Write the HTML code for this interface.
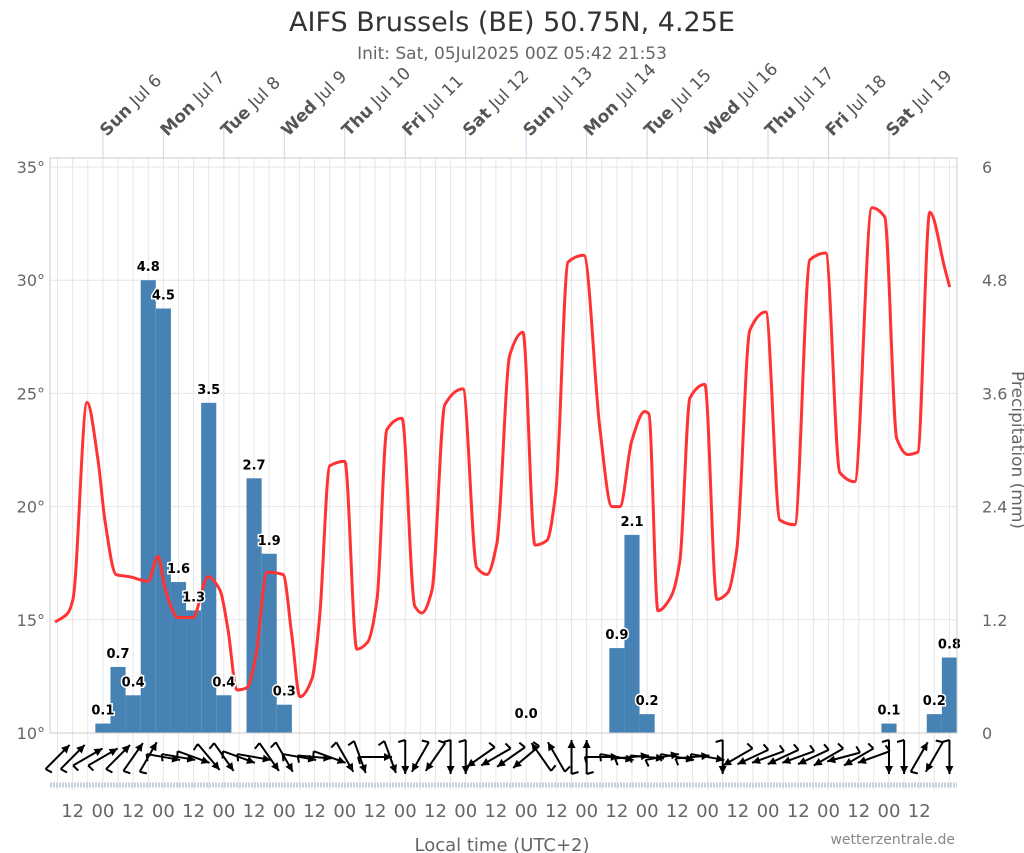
<!DOCTYPE html>
<html><head><meta charset="utf-8">
<style>
html,body{margin:0;padding:0;background:#fff;}
svg{display:block;font-family:"DejaVu Sans","Liberation Sans",sans-serif;}
</style></head>
<body>
<svg id="chart" width="1024" height="853" viewBox="0 0 1024 853" xmlns="http://www.w3.org/2000/svg">
<text x="512" y="31" text-anchor="middle" font-size="27" fill="#333">AIFS Brussels (BE) 50.75N, 4.25E</text>
<text x="512" y="59" text-anchor="middle" font-size="17" fill="#666">Init: Sat, 05Jul2025 00Z 05:42 21:53</text>
<g id="grid"></g>
<g id="bars"></g>
<g id="temp"></g>
<g id="barlabels"></g>
<g id="wind"></g>
<g id="axes"></g>
<text x="502" y="851" text-anchor="middle" font-size="18" fill="#666">Local time (UTC+2)</text>
<text x="955" y="844" text-anchor="end" font-size="14" fill="#888">wetterzentrale.de</text>
<text transform="translate(1012,450) rotate(90)" text-anchor="middle" font-size="17" fill="#666">Precipitation (mm)</text>
</svg>
<script>
const dayLabels=["Sun Jul 6","Mon Jul 7","Tue Jul 8","Wed Jul 9","Thu Jul 10","Fri Jul 11","Sat Jul 12","Sun Jul 13","Mon Jul 14","Tue Jul 15","Wed Jul 16","Thu Jul 17","Fri Jul 18","Sat Jul 19"];
const tempTicks=[10,15,20,25,30,35];
const precipTicks=[0,1.2,2.4,3.6,4.8,6];
const precipIndex=[3,4,5,6,7,8,9,10,11,13,14,15,37,38,39,55,58,59];
const precipValues=[0.1,0.7,0.4,4.8,4.5,1.6,1.3,3.5,0.4,2.7,1.9,0.3,0.9,2.1,0.2,0.1,0.2,0.8];
const zeroLabelIndex=[31];
const tempHours=[2,7.1,9.1,14.7,19,21.8,26.2,31.7,38.9,42.9,45.6,50.8,56.7,62.7,67.5,70.6,74.2,78.2,81.7,86.1,92.5,96,99.2,104,107,111,117,121.8,126,129.8,133.7,139.7,144.8,147.6,151.6,156.7,163.9,169.4,173.4,177.4,182.5,187.7,192.5,197.2,200.8,205.6,211.9,218.3,223,226.2,230.9,236.1,237.7,241.3,246.4,250,254,259.9,264.7,269,272.6,277.8,284.1,289.7,295.6,301.6,307.9,313.5,319.4,326.2,331.3,336.1,340.5,344.4,349.2,355.2,357.1];
const tempValues=[14.9,15.3,15.9,24.6,22.1,19.4,17.0,16.9,16.7,17.8,16.4,15.1,15.1,16.9,16.3,14.6,11.9,12.0,13.4,17.1,17.0,14.3,11.6,12.4,15.1,21.8,22.0,13.7,14.0,15.9,23.4,23.9,15.6,15.3,16.3,24.5,25.2,17.3,17.0,18.4,26.7,27.7,18.3,18.5,20.7,30.8,31.1,23.4,20.0,20.0,22.9,24.2,24.1,15.4,16.0,17.6,24.8,25.4,15.9,16.2,18.1,27.8,28.6,19.4,19.2,30.9,31.2,21.5,21.1,33.2,32.8,23.0,22.3,22.4,33.0,30.5,29.7];
const windDir=[45,45,60,60,45,35,30,100,100,110,140,145,110,100,145,150,100,95,110,150,160,90,160,180,210,215,180,180,235,240,235,230,325,330,0,0,90,100,85,95,80,100,85,100,180,240,245,250,245,250,245,240,255,240,250,180,180,30,210,180];

const NS="http://www.w3.org/2000/svg";
const L=50,R=957,T=158,B=733,HPX=(R-L)/360;
const xH=h=>L+h*HPX;
const yT=t=>B-(t-10)*(B-167)/25;
const yP=p=>B-p*(B-167)/6;
function mk(tag,parent,attrs){const e=document.createElementNS(NS,tag);for(const k in attrs)e.setAttribute(k,attrs[k]);parent.appendChild(e);return e;}
const grid=document.getElementById('grid'),axes=document.getElementById('axes');
for(let k=0;k<60;k++){const x=xH(3+6*k);const g=mk('line',grid,{x1:x,x2:x,y1:T,y2:790,stroke:'#e6e6e6','stroke-width':1});

}
tempTicks.forEach((t,i)=>{const y=yT(t);
const g=mk('line',grid,{x1:L,x2:R,y1:y,y2:y,stroke:'#e6e6e6','stroke-width':1});


const lt=mk('text',axes,{x:45,y:y+6,'text-anchor':'end','font-size':16,fill:'#666'});lt.textContent=t+'°';


const rt=mk('text',axes,{x:982,y:yP(precipTicks[i])+6,'font-size':16,fill:'#666'});rt.textContent=precipTicks[i];

});
const fr=mk('rect',axes,{x:L,y:T,width:R-L,height:B-T,fill:'none',stroke:'#ccc','stroke-width':1});


const ts=mk('line',axes,{x1:L,x2:R,y1:785,y2:785,stroke:'#c9d1dd','stroke-width':5,'stroke-dasharray':'2,1'});


dayLabels.forEach((d,i)=>{const x=xH(21+24*i);
const ln=mk('line',axes,{x1:x,x2:x,y1:126,y2:T,stroke:'#c8d4ea','stroke-width':1});


const sp=d.indexOf(' ');
const tx=mk('text',axes,{transform:`translate(${x+4},${137}) rotate(-45)`,'font-size':17,fill:'#555'});


const b=mk('tspan',tx,{'font-weight':'bold'});b.textContent=d.slice(0,sp);
const r=mk('tspan',tx,{});r.textContent=d.slice(sp);});
for(let h=9;h<=345;h+=12){const hr=((h+3)%24===0)?'00':'12';
const t=mk('text',axes,{x:xH(h),y:817,'text-anchor':'middle','font-size':18,fill:'#666'});t.textContent=hr;

}
const bars=document.getElementById('bars'),bl=document.getElementById('barlabels');
precipIndex.forEach((idx,j)=>{const x0=xH(6*idx),x1=xH(6*idx+6),v=precipValues[j];
const r=mk('rect',bars,{x:x0,y:yP(v),width:x1-x0,height:B-yP(v),fill:'#4682b4'});


const t=mk('text',bl,{x:(x0+x1)/2,y:yP(v)-9,'text-anchor':'middle','font-size':13,'font-weight':'bold',fill:'#000',stroke:'#fff','stroke-width':3,'paint-order':'stroke'});t.textContent=v.toFixed(1);

});
zeroLabelIndex.forEach(idx=>{const t=mk('text',bl,{x:xH(6*idx+3),y:B-15,'text-anchor':'middle','font-size':13,'font-weight':'bold',fill:'#000',stroke:'#fff','stroke-width':3,'paint-order':'stroke'});t.textContent='0.0';

});
// temperature curve: monotone cubic (Fritsch-Carlson), no overshoot
const X=tempHours.map(xH),Y=tempValues.map(yT),n=X.length;
const dl=[],m=[];
for(let i=0;i<n-1;i++)dl.push((Y[i+1]-Y[i])/(X[i+1]-X[i]));
m[0]=dl[0];m[n-1]=dl[n-2];
for(let i=1;i<n-1;i++){m[i]=(dl[i-1]*dl[i]<=0)?0:3*(X[i+1]-X[i-1])/((2*X[i+1]-X[i]-X[i-1])/dl[i-1]+(X[i+1]+X[i]-2*X[i-1])/dl[i]);}
let d=`M${X[0]},${Y[0]}`;
for(let i=0;i<n-1;i++){const h=(X[i+1]-X[i])/3;
d+=` C${X[i]+h},${Y[i]+m[i]*h} ${X[i+1]-h},${Y[i+1]-m[i+1]*h} ${X[i+1]},${Y[i+1]}`;}
const tl=mk('path',document.getElementById('temp'),{d:d,fill:'none',stroke:'#ff3333','stroke-width':3,'stroke-linejoin':'round'});


const wind=document.getElementById('wind');
windDir.forEach((dir,i)=>{const cx=xH(3+6*i),cy=757,len=34,a=dir*Math.PI/180;
const dx=Math.sin(a)*len/2,dy=-Math.cos(a)*len/2;
const hx=cx+dx,hy=cy+dy,tx=cx-dx,ty=cy-dy;
const g=mk('g',wind,{});


mk('line',g,{x1:tx,y1:ty,x2:hx,y2:hy,stroke:'#000','stroke-width':2});
const ux=Math.sin(a),uy=-Math.cos(a),px=-uy,py=ux;
mk('polygon',g,{points:`${hx},${hy} ${hx-ux*8+px*4},${hy-uy*8+py*4} ${hx-ux*8-px*4},${hy-uy*8-py*4}`,fill:'#000'});
mk('line',g,{x1:tx,y1:ty,x2:tx+px*7+ux*2,y2:ty+py*7+uy*2,stroke:'#000','stroke-width':2});});
</script>
</body></html>
